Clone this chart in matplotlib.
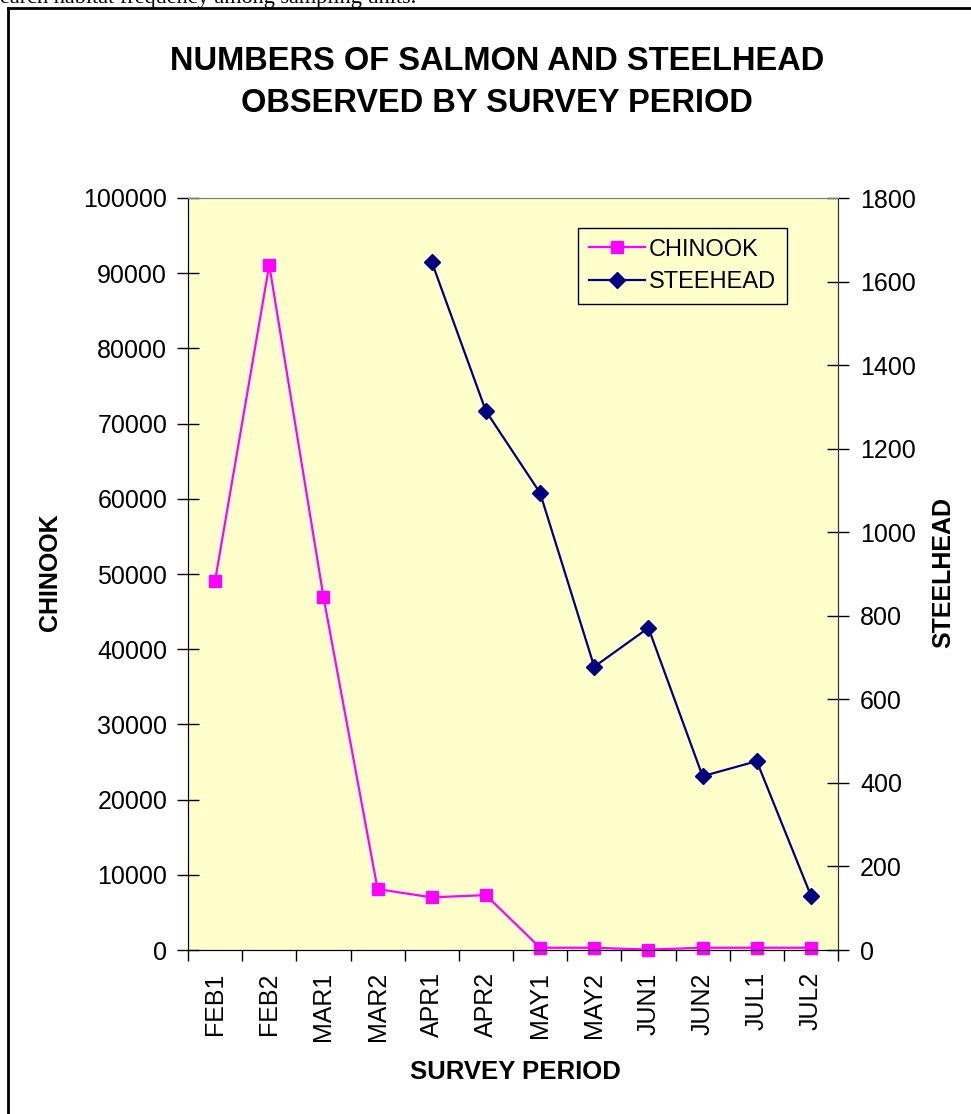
import matplotlib.pyplot as plt
import matplotlib.lines as mlines

plt.rcParams['font.family'] = ['Liberation Sans', 'DejaVu Sans']

periods = ['FEB1', 'FEB2', 'MAR1', 'MAR2', 'APR1', 'APR2',
           'MAY1', 'MAY2', 'JUN1', 'JUN2', 'JUL1', 'JUL2']
chinook = [49100, 91100, 47000, 8100, 7000, 7300,
           300, 300, 50, 300, 300, 300]
steel_periods = ['APR1', 'APR2', 'MAY1', 'MAY2', 'JUN1', 'JUN2', 'JUL1', 'JUL2']
steelhead = [1647, 1290, 1094, 678, 771, 416, 452, 130]

chinook_ticks = list(range(0, 100001, 10000))
steel_ticks = list(range(0, 1801, 200))

W, H = 971, 1114
fig = plt.figure(figsize=(W / 100, H / 100), dpi=100)

# clipped line of page text above the chart and the chart frame
fig.text(0.0, H - 3, 'earch habitat frequency among sampling units.',
         transform=None, fontsize=16, family='Liberation Serif',
         va='baseline', ha='left')
fig.add_artist(mlines.Line2D([8, 8], [0, H - 8], transform=None,
                             color='black', lw=2))
fig.add_artist(mlines.Line2D([8, W], [H - 8, H - 8], transform=None,
                             color='black', lw=2))

ax = fig.add_axes([188 / W, 164 / H, 650 / W, 752 / H])
ax.set_facecolor('#FFFFCC')
ax2 = ax.twinx()

x_all = list(range(len(periods)))
x_steel = [periods.index(p) for p in steel_periods]

l1, = ax.plot(x_all, chinook, color='#FF00FF', lw=1.6, marker='s',
              markersize=9, markeredgecolor='#FF00FF', label='CHINOOK',
              clip_on=False, zorder=3)
l2, = ax2.plot(x_steel, steelhead, color='#000080', lw=1.6, marker='D',
               markersize=8, markeredgecolor='#000080', label='STEEHEAD',
               clip_on=False, zorder=3)

ax.set_xlim(-0.5, len(periods) - 0.5)
ax.set_ylim(0, 100000)
ax2.set_ylim(0, 1800)

ax.set_xticks([i - 0.5 for i in range(len(periods) + 1)])
ax.set_xticklabels([])
ax.set_xticks(x_all, minor=True)
ax.set_xticklabels(periods, minor=True, rotation=90, fontsize=18)
ax.tick_params(axis='x', which='major', direction='out', length=8, width=1)
ax.tick_params(axis='x', which='minor', length=0, pad=16)

ax.set_yticks(chinook_ticks)
ax.set_yticklabels([str(v) for v in chinook_ticks], fontsize=18)
ax.tick_params(axis='y', direction='inout', length=16, width=1, pad=7)
ax2.set_yticks(steel_ticks)
ax2.set_yticklabels([str(v) for v in steel_ticks], fontsize=18)
ax2.tick_params(axis='y', direction='inout', length=16, width=1, pad=8)

for a in (ax, ax2):
    a.spines['top'].set_color('#808080')
    a.spines['left'].set_color('black')
    a.spines['bottom'].set_color('black')
    a.spines['right'].set_color('#333333')

# axis titles
fig.text(515 / W, 1 - 1072 / H, 'SURVEY PERIOD', ha='center', va='center',
         fontsize=18.5, fontweight='bold')
fig.text(50 / W, 1 - 572 / H, 'CHINOOK', ha='center', va='center',
         rotation=90, fontsize=18, fontweight='bold')
fig.text(943 / W, 1 - 572 / H, 'STEELHEAD', ha='center', va='center',
         rotation=90, fontsize=18, fontweight='bold')

# chart title
fig.text(497 / W, 1 - 61 / H, 'NUMBERS OF SALMON AND STEELHEAD',
         ha='center', va='center', fontsize=23.5, fontweight='bold')
fig.text(497 / W, 1 - 103 / H, 'OBSERVED BY SURVEY PERIOD',
         ha='center', va='center', fontsize=23.5, fontweight='bold')

leg = ax2.legend(handles=[l1, l2], loc='upper left',
                 bbox_to_anchor=((578 - 188) / 650, (950 - 228) / 752),
                 fontsize=17, frameon=True, fancybox=False,
                 edgecolor='black', facecolor='#FFFFCC', framealpha=1,
                 handlelength=2.4, borderpad=0.45, labelspacing=0.45,
                 handletextpad=0.15, borderaxespad=0)
leg.get_frame().set_linewidth(1)

fig.savefig('out.png', dpi=100)
